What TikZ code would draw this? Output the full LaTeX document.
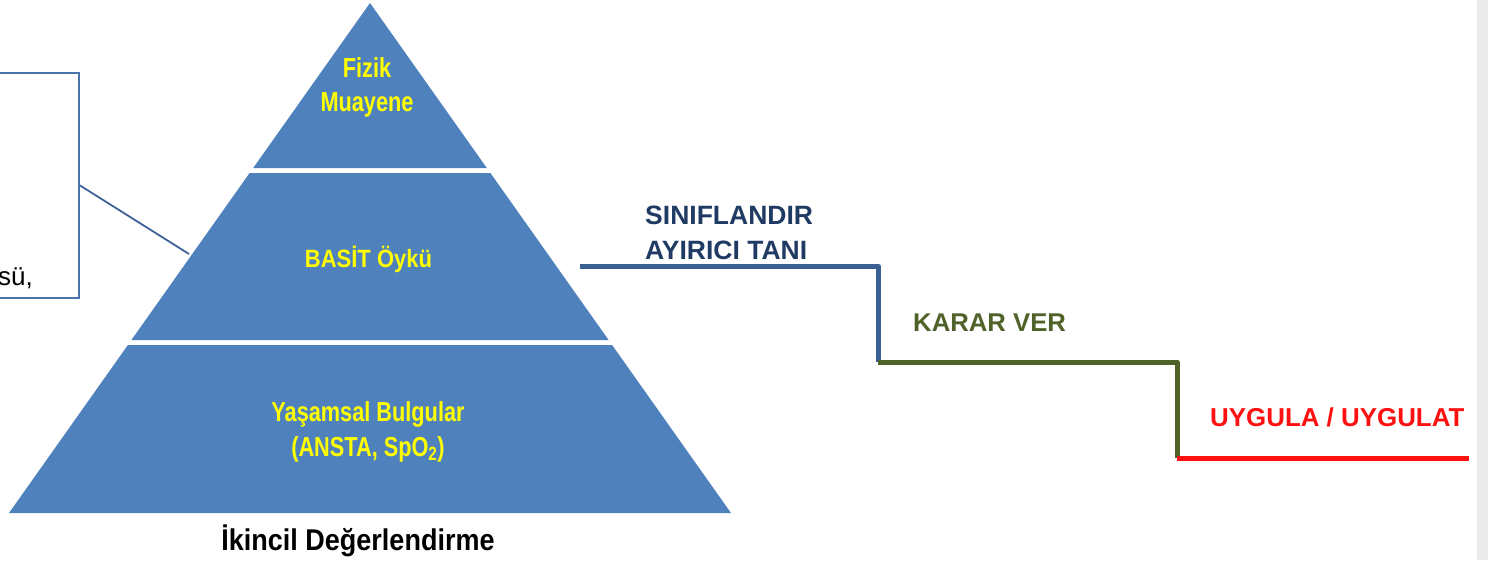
\documentclass[tikz,border=0pt]{standalone}
\usepackage{fontspec}
\setmainfont{Liberation Sans}
\newfontfamily\tiernarrow[FakeStretch=0.79]{Liberation Sans}
\newfontfamily\tiermid[FakeStretch=0.88]{Liberation Sans}
\newfontfamily\titlefont[FakeStretch=0.9]{Liberation Sans}

\definecolor{tierblue}{HTML}{4F81BD}
\definecolor{tieryellow}{HTML}{FFFF00}
\definecolor{linkblue}{HTML}{3F6296}
\definecolor{boxblue}{HTML}{4A74AA}
\definecolor{stepblue}{HTML}{3A6093}
\definecolor{navytext}{HTML}{1F3B63}
\definecolor{olivestep}{HTML}{4F6228}
\definecolor{redstep}{HTML}{FF1010}
\definecolor{edgegray}{HTML}{EBEBEB}

\begin{document}
\begin{tikzpicture}[x=1pt,y=-1pt,
  tier/.style={fill=tierblue},
  tiertext/.style={text=tieryellow,font=\tiernarrow\bfseries\fontsize{27.5}{30}\selectfont,anchor=base,inner sep=0pt},
  stairline/.style={line width=5pt,line join=round},
  stairtext/.style={font=\bfseries\fontsize{26.5}{30}\selectfont,anchor=base west,inner sep=0pt},
  notebox/.style={draw=boxblue,line width=1.9pt,inner sep=0pt}
]
\useasboundingbox (0,0) rectangle (1488,560);
\fill[edgegray] (1477,0) rectangle (1488,560);

% three tiers of the pyramid
\fill[tier] (370,3) -- (486.8,168) -- (253.2,168) -- cycle;
\fill[tier] (249.6,173) -- (490.4,173) -- (608.6,340) -- (131.4,340) -- cycle;
\fill[tier] (127.9,345) -- (612.1,345) -- (731,513) -- (9,513) -- cycle;

\node[tiertext] (fizik) at (367,77) {Fizik};
\node[tiertext] (muayene) at (367,111) {Muayene};
\node[tiertext,font=\tiermid\bfseries\fontsize{25}{30}\selectfont] (oyku) at (368.5,267) {BASİT Öykü};
\node[tiertext] (yasamsal) at (368,421) {Yaşamsal Bulgular};
\node[tiertext] (ansta) at (368,456) {(ANSTA, SpO\textsubscript{2})};

\node[anchor=base,inner sep=0pt,font=\titlefont\bfseries\fontsize{30}{34}\selectfont] (title) at (358,550) {İkincil Değerlendirme};

% note box on the left, joined to the pyramid
\node[notebox,minimum width=140pt,minimum height=225pt,anchor=north east] (note) at (80,72) {};
\node[anchor=base west,inner sep=0pt,font=\fontsize{26}{30}\selectfont] (notetext) at (-2,285) {sü,};
\coordinate (pyredge) at (189,254);
\draw[linkblue,line width=1.8pt] (note.east) -- (pyredge);

% descending steps
\coordinate (s0) at (580,266);
\coordinate (s1) at (878,266);
\coordinate (s2) at (878,362);
\coordinate (s3) at (1177,362);
\coordinate (s4) at (1177,458);
\coordinate (s5) at (1469,458);
\draw[stairline,stepblue] (s0) -- (s1) -- (s2);
\draw[stairline,olivestep] (s2) -- (s3) -- (s4);
\draw[stairline,redstep] (s4) -- (s5);

\node[stairtext,text=navytext] (sinif) at (645,224.5) {SINIFLANDIR};
\node[stairtext,text=navytext] (ayirici) at (645,259.5) {AYIRICI TANI};
\node[stairtext,text=olivestep,font=\bfseries\fontsize{25.7}{30}\selectfont] (karar) at (913,331) {KARAR VER};
\node[stairtext,text=redstep,font=\bfseries\fontsize{25.9}{30}\selectfont] (uygula) at (1210,426.5) {UYGULA / UYGULAT};
\end{tikzpicture}
\end{document}
